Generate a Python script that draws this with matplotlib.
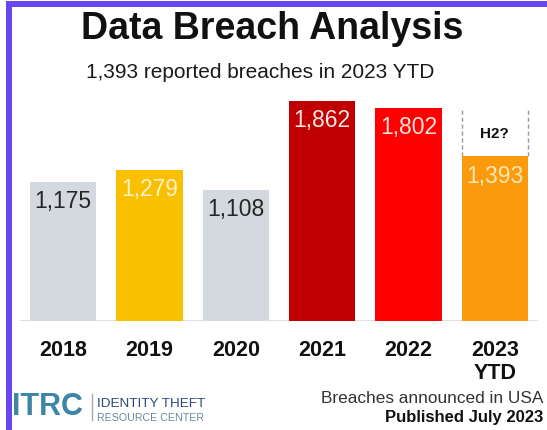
import matplotlib
matplotlib.use("Agg")
import matplotlib.pyplot as plt
from matplotlib.patches import Rectangle
from matplotlib.lines import Line2D

plt.rcParams['font.family'] = ['Liberation Sans', 'DejaVu Sans']

# data
years = ['2018', '2019', '2020', '2021', '2022', '2023\nYTD']
breaches = [1175, 1279, 1108, 1862, 1802, 1393]
value_labels = ['1,175', '1,279', '1,108', '1,862', '1,802', '1,393']
h2_top = 1780  # dashed "H2?" placeholder above the 2023 bar

bar_colors = ['#d3d9de', '#f9c000', '#d3d9de', '#c00000', '#fe0000', '#f99b0c']
label_colors = ['#262626', '#fff2cc', '#262626', '#ffe5e5', '#ffdede', '#ffe6b3']

W, H = 547, 431
fig = plt.figure(figsize=(W / 100, H / 100), dpi=100)
fig.patch.set_facecolor('white')


def fx(px):
    return px / W


def fy(py):
    return 1 - py / H


# purple frame (top + left edge)
fig.patches.append(Rectangle((fx(6), fy(8)), fx(541), 6 / H, transform=fig.transFigure,
                             facecolor='#6846f0', edgecolor='none', zorder=5))
fig.patches.append(Rectangle((fx(6), 0), 6 / W, fy(2), transform=fig.transFigure,
                             facecolor='#6846f0', edgecolor='none', zorder=5))

# bar area
ax = fig.add_axes([fx(20), fy(322), 518 / W, 232 / H])
x = list(range(len(years)))
ax.bar(x, breaches, width=0.765, color=bar_colors, zorder=2)
ax.axhline(0, color='#d9d9d9', lw=1.2, zorder=1)
ax.set_xlim(-0.5, 5.5)
ax.set_ylim(0, 1961)

for i, (v, lab, c) in enumerate(zip(breaches, value_labels, label_colors)):
    ax.annotate(lab, (i, v), xytext=(0, -19), textcoords='offset pixels',
                ha='center', va='center', fontsize=16.5, color=c, zorder=3)

# dashed H2 box over the last bar
last = len(years) - 1
half = 0.765 / 2
for side in (-half, half):
    ax.plot([last + side, last + side], [breaches[last], h2_top],
            color='#9a9a9a', lw=1, ls=(0, (3, 2)), zorder=3)
ax.text(last, (breaches[last] + h2_top) / 2, 'H2?', ha='center', va='center',
        fontsize=11, fontweight='bold', color='#111111')

ax.set_xticks(x)
ax.set_xticklabels(years, fontsize=15.5, fontweight='bold', color='#111111',
                   linespacing=1.15)
ax.tick_params(axis='x', length=0, pad=13)
ax.set_yticks([])
for s in ax.spines.values():
    s.set_visible(False)

# titles
fig.text(fx(272), fy(29), 'Data Breach Analysis', ha='center', va='center',
         fontsize=27, fontweight='bold', color='#111111')
fig.text(fx(260), fy(72), '1,393 reported breaches in 2023 YTD', ha='center', va='center',
         fontsize=15, color='#1a1a1a')

# footer notes
fig.text(fx(543), fy(399), 'Breaches announced in USA', ha='right', va='center',
         fontsize=12.4, color='#333333')
fig.text(fx(543), fy(418), 'Published July 2023', ha='right', va='center',
         fontsize=12, fontweight='bold', color='#111111')

# ITRC logo (as text)
fig.text(fx(12), fy(407), 'ITRC', ha='left', va='center', fontsize=22,
         fontweight='bold', color='#3d86a8')
fig.lines.append(Line2D([fx(92), fx(92)], [fy(395), fy(421)], transform=fig.transFigure,
                        color='#aaaaaa', lw=1))
fig.text(fx(97), fy(404), 'IDENTITY THEFT', ha='left', va='center', fontsize=9.7,
         color='#2d4a7a')
fig.text(fx(97), fy(418), 'RESOURCE CENTER', ha='left', va='center', fontsize=7.7,
         color='#6b8a9a')

fig.savefig('out.png', dpi=100)
